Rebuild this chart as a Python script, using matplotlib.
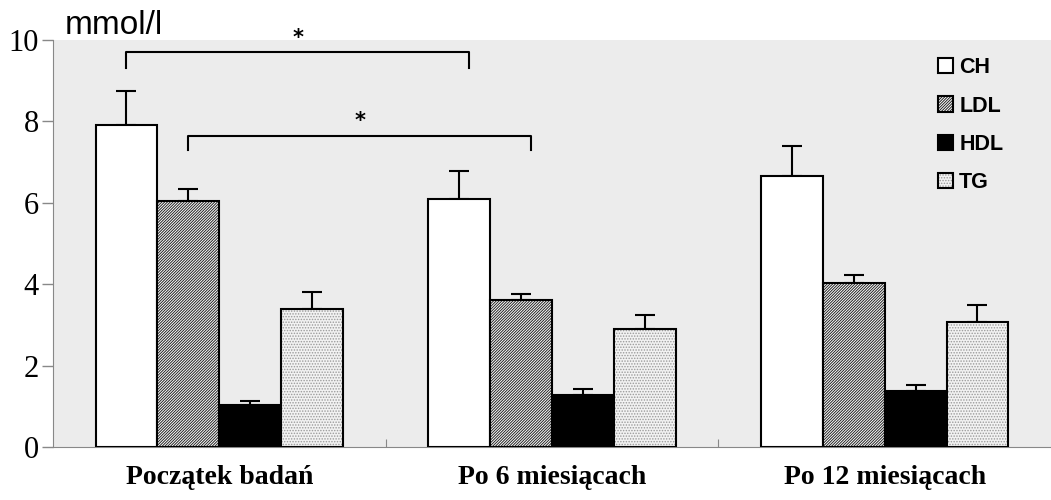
import matplotlib.pyplot as plt
from matplotlib.patches import Patch
import numpy as np

groups = ['Początek badań', 'Po 6 miesiącach', 'Po 12 miesiącach']
series = ['CH', 'LDL', 'HDL', 'TG']
ch = [7.9, 6.1, 6.65]
ch_err = [0.85, 0.68, 0.75]
ldl = [6.05, 3.6, 4.02]
ldl_err = [0.3, 0.15, 0.2]
hdl = [1.02, 1.28, 1.38]
hdl_err = [0.1, 0.14, 0.14]
tg = [3.4, 2.9, 3.08]
tg_err = [0.4, 0.35, 0.42]

plt.rcParams['hatch.linewidth'] = 0.7

fig = plt.figure(figsize=(10.51, 5), dpi=100)
ax = fig.add_axes([0.0504, 0.106, 0.9496, 0.814])
ax.set_facecolor('#ececec')

x = np.arange(len(groups))
w = 0.186
offs = [-1.5 * w, -0.5 * w, 0.5 * w, 1.5 * w]
vals = [ch, ldl, hdl, tg]
errs = [ch_err, ldl_err, hdl_err, tg_err]
faces = ['white', 'white', 'black', '#f2f2f2']
hatches = [None, '////////////', None, '......']
hcolors = ['black', '#222222', 'black', '#9a9a9a']

handles = []
for name, v, e, o, fc, h, hc in zip(series, vals, errs, offs, faces, hatches, hcolors):
    # fill with hatch, then black outline on top
    ax.bar(x + o, v, w, color=fc, edgecolor=hc, hatch=h, linewidth=0, zorder=3)
    ax.bar(x + o, v, w, fill=False, edgecolor='black', linewidth=1.5, zorder=3)
    ax.errorbar(x + o, v, yerr=[np.zeros(3), e], fmt='none', ecolor='black',
                elinewidth=1.5, capsize=7, capthick=1.5, zorder=2)
    handles.append((Patch(facecolor=fc, edgecolor=hc, hatch=h, linewidth=0),
                    Patch(fill=False, edgecolor='black', linewidth=1.5)))

# significance brackets
def bracket(x1, x2, y, drop, ystar):
    ax.plot([x1, x1, x2, x2], [y - drop, y, y, y - drop], color='black', lw=1.5, zorder=4)
    ax.text((x1 + x2) / 2, ystar, '*', ha='center', va='center', fontsize=15,
            fontweight='bold', family='DejaVu Sans')

bracket(x[0] + offs[0], x[1] + offs[0] + 0.03, 9.7, 0.4, 10.05)
bracket(x[0] + offs[1], x[1] + offs[1] + 0.03, 7.65, 0.35, 8.0)

ax.set_xlim(-0.5, 2.5)
ax.set_ylim(0, 10)
ax.set_yticks([0, 2, 4, 6, 8, 10])
ax.set_yticklabels(['0', '2', '4', '6', '8', '10'], family='Liberation Serif', fontsize=22)
ax.set_xticks([0.5, 1.5])
ax.set_xticklabels([])
ax.tick_params(axis='x', length=6, color='#888888', direction='in')
ax.tick_params(axis='y', length=8, color='#888888', width=1, pad=2)
for i, g in enumerate(groups):
    ax.text(i, -0.45, g, ha='center', va='top', family='Liberation Serif',
            fontweight='bold', fontsize=20)

for s in ['top', 'right']:
    ax.spines[s].set_visible(False)
ax.spines['left'].set_color('#888888')
ax.spines['bottom'].set_color('#888888')

fig.text(0.062, 0.918, 'mmol/l', family='Liberation Sans', fontsize=24, va='bottom')

leg = ax.legend(handles, series, loc='upper left', bbox_to_anchor=(0.867, 1.005), frameon=False,
                prop={'family': 'Liberation Sans', 'weight': 'bold', 'size': 15.5},
                handlelength=0.7, handleheight=0.7, labelspacing=0.8, handletextpad=0.3)

fig.savefig('out.png', dpi=100)
